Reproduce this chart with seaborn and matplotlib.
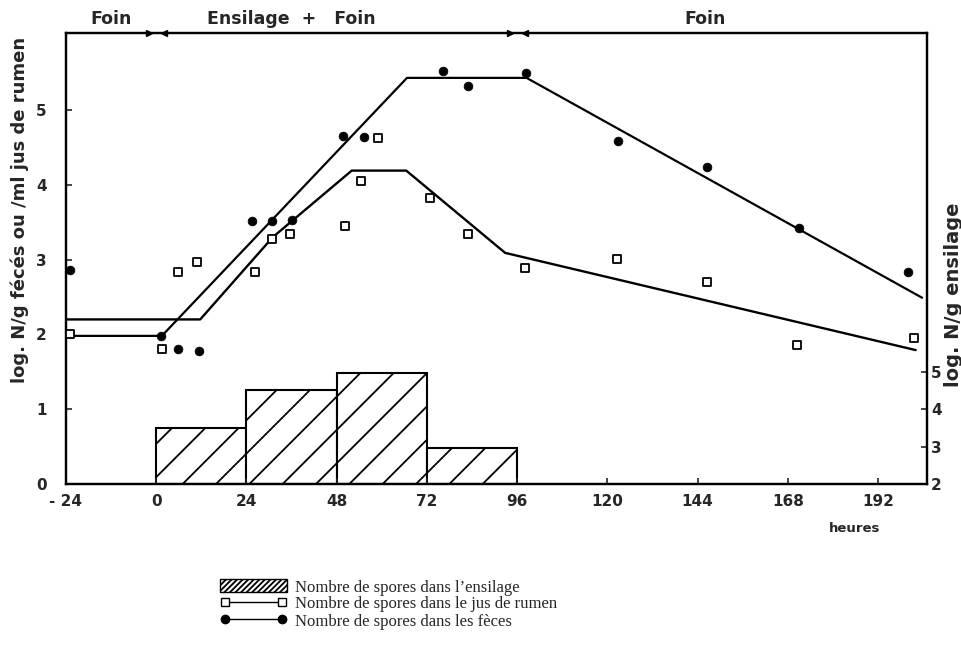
import matplotlib
matplotlib.use('Agg')
import matplotlib.pyplot as plt
import seaborn as sns
from matplotlib.patches import Patch
from matplotlib.lines import Line2D

# bars: spores in silage (right axis, log N/g ensilage)
silage_start = [0, 24, 48, 72]
silage_log = [3.5, 4.5, 4.97, 2.95]

# rumen juice (open squares)
rumen_h = [-23, 1.5, 5.8, 10.8, 26.3, 30.9, 35.6, 50.3, 54.5, 59.1, 72.7, 83, 98.1, 122.5, 146.5, 170.5, 201.5]
rumen = [2.01, 1.80, 2.83, 2.97, 2.83, 3.28, 3.34, 3.45, 4.05, 4.63, 3.83, 3.34, 2.89, 3.01, 2.70, 1.86, 1.95]
rumen_fit_h = [-24, 11.7, 31, 52, 66.5, 92.8, 202]
rumen_fit = [2.2, 2.2, 3.3, 4.19, 4.19, 3.09, 1.79]

# feces (filled circles)
feces_h = [-23, 1.2, 5.9, 11.3, 25.6, 30.8, 36.1, 49.8, 55.2, 76.3, 83, 98.4, 122.9, 146.5, 171, 200]
feces = [2.86, 1.98, 1.80, 1.78, 3.52, 3.51, 3.53, 4.65, 4.64, 5.52, 5.32, 5.49, 4.59, 4.24, 3.42, 2.83]
feces_fit_h = [-24, 1.5, 66.7, 98.5, 203.7]
feces_fit = [1.98, 1.98, 5.43, 5.43, 2.49]

xticks = [-24, 0, 24, 48, 72, 96, 120, 144, 168, 192]
xtick_labels = ['- 24', '0', '24', '48', '72', '96', '120', '144', '168', '192']

sns.set_style('ticks')
plt.rcParams['font.family'] = ['DejaVu Sans']
plt.rcParams['hatch.linewidth'] = 1.3

fig = plt.figure(figsize=(9.62, 6.47), dpi=100)
ax = fig.add_axes([0.0686, 0.252, 0.895, 0.697])
ax2 = ax.twinx()

ymax = 6.03
ax.set_xlim(-24, 205)
ax.set_ylim(0, ymax)
ax2.set_ylim(2, 2 + 2 * ymax)

# silage bars on the right scale
ax2.bar(silage_start, [v - 2 for v in silage_log], bottom=2, width=24, align='edge',
        color='white', edgecolor='black', hatch='/', linewidth=1.5, zorder=1)

ax.set_zorder(ax2.get_zorder() + 1)
ax.patch.set_visible(False)

sns.lineplot(x=rumen_fit_h, y=rumen_fit, color='black', linewidth=1.7, ax=ax, sort=False)
sns.lineplot(x=feces_fit_h, y=feces_fit, color='black', linewidth=1.6, ax=ax, sort=False)
sns.scatterplot(x=rumen_h, y=rumen, marker='s', color='white', edgecolor='black',
                s=26, linewidth=1.3, ax=ax, zorder=5, clip_on=False)
sns.scatterplot(x=feces_h, y=feces, marker='o', color='black', edgecolor='black',
                s=40, linewidth=0.5, ax=ax, zorder=5, clip_on=False)

ax.set_xticks(xticks)
ax.set_xticklabels(xtick_labels, fontsize=11, fontweight='bold')
ax.set_yticks([0, 1, 2, 3, 4, 5])
ax.set_yticklabels(['0', '1', '2', '3', '4', '5'], fontsize=11, fontweight='bold')
ax.tick_params(direction='in', length=4, width=1.2)
ax.tick_params(axis='x', pad=7)
ax.tick_params(axis='y', pad=14)
ax2.set_yticks([2, 3, 4, 5])
ax2.set_yticklabels(['2', '3', '4', '5'], fontsize=11, fontweight='bold')
ax2.tick_params(direction='in', length=4, width=1.2, pad=3)
ax.set_xlabel('')
ax.set_ylabel('')

for a in (ax, ax2):
    for side in ('left', 'right', 'bottom', 'top'):
        a.spines[side].set_visible(True)
        a.spines[side].set_linewidth(1.6)
        a.spines[side].set_color('black')

# diet period arrows along the top edge
for xb in (0, 96):
    ax.plot([xb - 2], [ymax], marker='>', color='black', markersize=5, clip_on=False, zorder=6)
    ax.plot([xb + 2], [ymax], marker='<', color='black', markersize=5, clip_on=False, zorder=6)

ax.text(-12, 6.22, 'Foin', ha='center', va='center', fontsize=12.5, fontweight='bold')
ax.text(36, 6.22, 'Ensilage  +   Foin', ha='center', va='center', fontsize=12.5, fontweight='bold')
ax.text(146, 6.22, 'Foin', ha='center', va='center', fontsize=12.5, fontweight='bold')

fig.text(855 / 962, 1 - 528 / 647, 'heures', ha='center', va='center', fontsize=9.5, fontweight='bold')
fig.text(20 / 962, 1 - 210 / 647, 'log. N/g fécés ou /ml jus de rumen', rotation=90,
         ha='center', va='center', fontsize=13, fontweight='bold')
fig.text(954 / 962, 1 - 295 / 647, 'log. N/g ensilage', rotation=90,
         ha='center', va='center', fontsize=14, fontweight='bold')

handles = [
    Patch(facecolor='white', edgecolor='black', hatch='//////', linewidth=1.0),
    Line2D([0], [0], color='black', linewidth=1.0, marker='s', markerfacecolor='white',
           markeredgecolor='black', markersize=6),
    Line2D([0], [0], color='black', linewidth=1.0, marker='o', markerfacecolor='black',
           markersize=6),
]
labels = ['Nombre de spores dans l\u2019ensilage',
          'Nombre de spores dans le jus de rumen',
          'Nombre de spores dans les fèces']
fig.legend(handles, labels, loc='upper left', bbox_to_anchor=(212 / 962, 1 - 571 / 647),
           frameon=False, numpoints=2, handlelength=4.0, handletextpad=0.5,
           labelspacing=0.05, borderpad=0, handleheight=0.8,
           prop={'family': 'Liberation Serif', 'size': 12})

fig.savefig('out.png', dpi=100)
